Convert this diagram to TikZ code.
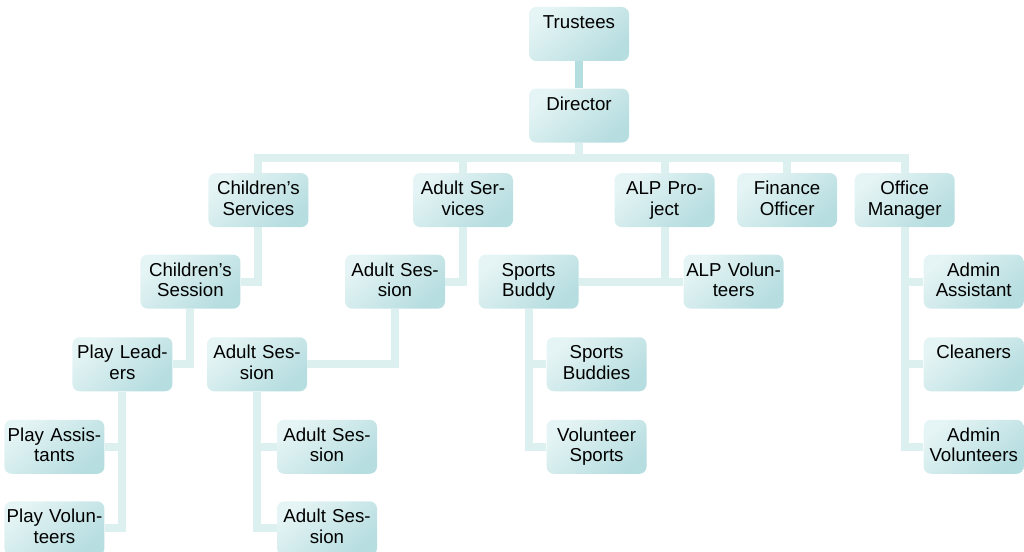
\documentclass[tikz,border=0pt]{standalone}
\usepackage{fontspec}
\setmainfont{Liberation Sans}
\usepackage{tikz}
\usetikzlibrary{positioning}
\definecolor{boxlight}{HTML}{E5F4F4}
\definecolor{boxdark}{HTML}{B6DDE0}
\definecolor{linklight}{HTML}{DDF0F0}
\definecolor{linkdark}{HTML}{B5DEE0}
\tikzset{
    post/.style={
      rectangle,
           rounded corners=0.18cm,
           top color=boxlight, middle color=boxlight, bottom color=boxdark,
           shading angle=40,
           inner sep=0pt,
           text width=2.5cm,
           align=center,
           minimum width=2.5cm,
           text height=0.54cm,
           text depth=0.81cm,
           font=\fontsize{13.3}{14.6}\selectfont,
           },
}
\tikzset{
    link/.style={
           draw=linklight,
           line width=0.2cm,
           },
}

\begin{document}
\begin{tikzpicture}

\useasboundingbox (0,0) rectangle (25.6,-13.8);

\node[post] at (14.475,-0.85) (tru){Trustees};
\node[post,below = 0.675cm of tru](dir){Director};

\path (tru) edge[link,draw=linkdark](dir);

\coordinate[below = 0.375cm of dir.south](bus);

\node[post,below left = 0.75cm and 5.5cm of dir](cs){Children's\\Services};
\node[post,right = 2.6cm of cs](as){Adult Ser-\\vices};
\node[post,right = 2.525cm of as](alp){ALP Pro-\\ject};
\node[post,right = 0.55cm of alp](fo){Finance\\Officer};
\node[post,right = 0.425cm of fo](om){Office\\Manager};

\foreach \n in {cs,as,alp,fo,om}
  \draw[link] (dir.south)--(bus)-|(\n.north);

\node[post,below = 0.675cm of cs,xshift=-1.7cm](cse){Children's\\Session};
\node[post,below = 0.675cm of as,xshift=-1.7cm](ase){Adult Ses-\\sion};
\node[post,below = 0.675cm of alp,xshift=-3.4cm](sb){Sports\\Buddy};
\node[post,below = 0.675cm of alp,xshift=1.725cm](alv){ALP Volun-\\teers};
\node[post,below = 0.675cm of om,xshift=1.725cm](aa){Admin\\Assistant};

\draw[link] (cs.south)|-(cse.east);
\draw[link] (as.south)|-(ase.east);
\draw[link] (alp.south)|-(sb.east);
\draw[link] (alp.south)|-(alv.west);
\draw[link] (om.south)|-(aa.west);

\node[post,below = 0.7cm of cse,xshift=-1.7cm](pl){Play Lead-\\ers};
\node[post,below = 0.7cm of ase,xshift=-3.45cm](as4){Adult Ses-\\sion};
\node[post,below = 0.7cm of sb,xshift=1.7cm](sbs){Sports\\Buddies};
\node[post,below = 0.7cm of aa](cl){Cleaners};

\draw[link] (cse.south)|-(pl.east);
\draw[link] (ase.south)|-(as4.east);
\draw[link] (sb.south)|-(sbs.west);
\draw[link] (om.south)|-(cl.west);

\node[post,below = 0.7cm of pl,xshift=-1.7cm](pa){Play Assis-\\tants};
\node[post,below = 0.7cm of as4,xshift=1.75cm](as5){Adult Ses-\\sion};
\node[post,below = 0.7cm of sbs](vs){Volunteer\\Sports};
\node[post,below = 0.7cm of cl](av){Admin\\Volunteers};

\draw[link] (pl.south)|-(pa.east);
\draw[link] (as4.south)|-(as5.west);
\draw[link] (sb.south)|-(vs.west);
\draw[link] (om.south)|-(av.west);

\node[post,below = 0.675cm of pa](pv){Play Volun-\\teers};
\node[post,below = 0.675cm of as5](as6){Adult Ses-\\sion};

\draw[link] (pl.south)|-(pv.east);
\draw[link] (as4.south)|-(as6.west);

\end{tikzpicture}
\end{document}
